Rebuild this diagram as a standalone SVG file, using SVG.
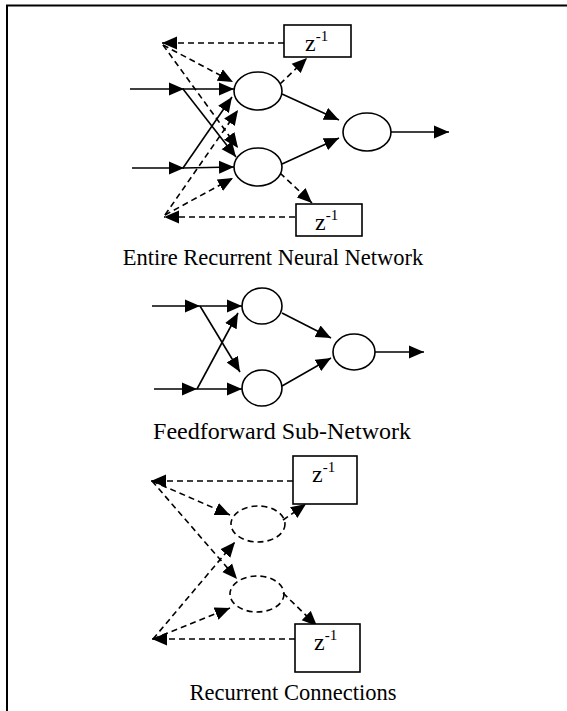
<svg xmlns="http://www.w3.org/2000/svg" width="567" height="711" viewBox="0 0 567 711">
<style>
.s{stroke:#000;stroke-width:1.6;fill:none}
.d{stroke:#000;stroke-width:1.6;fill:none;stroke-dasharray:6,4}
.n{stroke:#000;stroke-width:1.6;fill:#fff}
.nd{stroke:#000;stroke-width:1.6;fill:none;stroke-dasharray:6,4}
.t{font-family:"Liberation Serif","Times New Roman",serif;fill:#000}
.z{font-size:24px}
.sup{font-size:15px}
</style>
<defs>
<marker id="a" markerUnits="userSpaceOnUse" markerWidth="16" markerHeight="14" refX="15" refY="7" orient="auto">
<path d="M0,0.5 L15,7 L0,13.5 z" fill="#000"/>
</marker>
</defs>
<rect x="0" y="0" width="567" height="711" fill="#fff"/>
<path d="M7,711 V5.5 H567" fill="none" stroke="#000" stroke-width="2"/>

<!-- Diagram 1 -->
<g id="connectors1">
<line class="s" x1="130" y1="89" x2="184" y2="89" marker-end="url(#a)"/>
<line class="s" x1="183" y1="89" x2="234" y2="89" marker-end="url(#a)"/>
<line class="s" x1="183" y1="89" x2="236" y2="157" marker-end="url(#a)"/>
<line class="s" x1="132" y1="168" x2="184" y2="168" marker-end="url(#a)"/>
<line class="s" x1="183" y1="168" x2="234" y2="167" marker-end="url(#a)"/>
<line class="s" x1="183" y1="168" x2="232" y2="97" marker-end="url(#a)"/>
<line class="s" x1="282" y1="94" x2="339" y2="120" marker-end="url(#a)"/>
<line class="s" x1="282" y1="164" x2="339" y2="138" marker-end="url(#a)"/>
<line class="s" x1="391" y1="132" x2="449" y2="132" marker-end="url(#a)"/>
<line class="d" x1="284" y1="43" x2="162" y2="43" marker-end="url(#a)"/>
<line class="d" x1="163" y1="45" x2="233" y2="82" marker-end="url(#a)"/>
<line class="d" x1="163" y1="45" x2="238" y2="148" marker-end="url(#a)"/>
<line class="d" x1="295" y1="217" x2="164" y2="217" marker-end="url(#a)"/>
<line class="d" x1="165" y1="215" x2="238" y2="110" marker-end="url(#a)"/>
<line class="d" x1="165" y1="215" x2="233" y2="178" marker-end="url(#a)"/>
<line class="d" x1="280" y1="84" x2="307" y2="58" marker-end="url(#a)"/>
<line class="d" x1="280" y1="173" x2="312" y2="203" marker-end="url(#a)"/>
</g>
<g id="h1"><ellipse class="n" cx="258" cy="91" rx="24" ry="19"/></g>
<g id="h2"><ellipse class="n" cx="258" cy="167" rx="24" ry="19"/></g>
<g id="o1"><ellipse class="n" cx="367" cy="132" rx="24" ry="19"/></g>
<g id="z1"><rect class="n" x="284" y="25" width="67" height="32"/><text class="t z" x="305" y="51">z<tspan class="sup" dy="-10">-1</tspan></text></g>
<g id="z2"><rect class="n" x="296" y="204" width="66" height="32"/><text class="t z" x="315" y="230">z<tspan class="sup" dy="-10">-1</tspan></text></g>
<text id="cap1" class="t" x="273" y="264.5" font-size="22.5" text-anchor="middle">Entire Recurrent Neural Network</text>

<!-- Diagram 2 -->
<g id="connectors2">
<line class="s" x1="152" y1="306" x2="200" y2="306" marker-end="url(#a)"/>
<line class="s" x1="200" y1="306" x2="242" y2="306" marker-end="url(#a)"/>
<line class="s" x1="200" y1="306" x2="240" y2="372" marker-end="url(#a)"/>
<line class="s" x1="154" y1="389" x2="197" y2="389" marker-end="url(#a)"/>
<line class="s" x1="197" y1="389" x2="242" y2="389" marker-end="url(#a)"/>
<line class="s" x1="197" y1="389" x2="238" y2="313" marker-end="url(#a)"/>
<line class="s" x1="282" y1="313" x2="331" y2="338" marker-end="url(#a)"/>
<line class="s" x1="282" y1="386" x2="331" y2="358" marker-end="url(#a)"/>
<line class="s" x1="375" y1="352" x2="424" y2="352" marker-end="url(#a)"/>
</g>
<g id="f1"><ellipse class="n" cx="262" cy="306" rx="20" ry="18"/></g>
<g id="f2"><ellipse class="n" cx="262" cy="388" rx="20" ry="18"/></g>
<g id="f3"><ellipse class="n" cx="354" cy="352" rx="21" ry="18"/></g>
<text id="cap2" class="t" x="282" y="439" font-size="24" text-anchor="middle">Feedforward Sub-Network</text>

<!-- Diagram 3 -->
<g id="connectors3">
<line class="d" x1="293" y1="481" x2="151" y2="481" marker-end="url(#a)"/>
<line class="d" x1="152" y1="481" x2="230" y2="515" marker-end="url(#a)"/>
<line class="d" x1="152" y1="481" x2="237" y2="579" marker-end="url(#a)"/>
<line class="d" x1="295" y1="639" x2="152" y2="639" marker-end="url(#a)"/>
<line class="d" x1="153" y1="639" x2="235" y2="542" marker-end="url(#a)"/>
<line class="d" x1="153" y1="639" x2="230" y2="608" marker-end="url(#a)"/>
<line class="d" x1="283" y1="520" x2="306" y2="504" marker-end="url(#a)"/>
<line class="d" x1="283" y1="593" x2="317" y2="626" marker-end="url(#a)"/>
</g>
<g id="r1"><ellipse class="nd" cx="258" cy="524" rx="27" ry="18"/></g>
<g id="r2"><ellipse class="nd" cx="257" cy="594" rx="27" ry="18"/></g>
<g id="z3"><rect class="n" x="293" y="456" width="64" height="48"/><text class="t z" x="312" y="482">z<tspan class="sup" dy="-10">-1</tspan></text></g>
<g id="z4"><rect class="n" x="295" y="624" width="65" height="48"/><text class="t z" x="314" y="650">z<tspan class="sup" dy="-10">-1</tspan></text></g>
<text id="cap3" class="t" x="293" y="700" font-size="22.5" text-anchor="middle">Recurrent Connections</text>
</svg>
